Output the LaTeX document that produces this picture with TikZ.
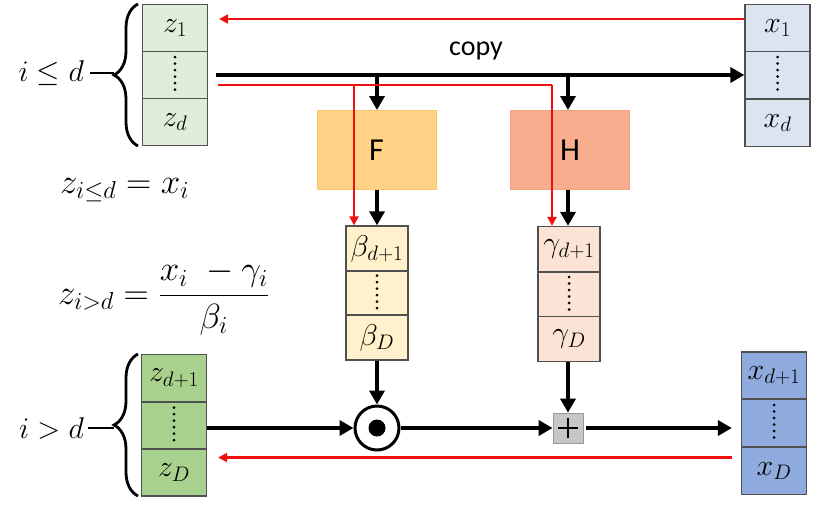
\RequirePackage{fix-cm}
\documentclass[tikz,border=0pt]{standalone}
\usepackage{amsmath}
\usepackage{fontspec}
\newfontfamily\calibri{Carlito}
\usetikzlibrary{arrows.meta,decorations.pathreplacing}
\definecolor{gA}{HTML}{E0EDD8}
\definecolor{gB}{HTML}{A9D18E}
\definecolor{bA}{HTML}{DCE4F2}
\definecolor{bB}{HTML}{8FAADC}
\definecolor{yA}{HTML}{FFF1CC}
\definecolor{pA}{HTML}{FBE3D5}
\definecolor{fF}{HTML}{FFD285}
\definecolor{fFb}{HTML}{F6C66E}
\definecolor{fH}{HTML}{F8AE8E}
\definecolor{fHb}{HTML}{F3A282}
\definecolor{rd}{HTML}{F01010}
\definecolor{bd}{HTML}{505050}
\tikzset{
  cell/.style={draw=bd, line width=1.3pt, minimum width=65pt, minimum height=47pt, inner sep=0pt, font=\fontsize{30}{34}\selectfont},
  bcell/.style={cell, minimum width=62pt, minimum height=45pt},
  fbox/.style={minimum width=119pt, minimum height=79pt, inner sep=0pt, line width=1pt, font=\calibri\fontsize{32}{36}\selectfont},
  blk/.style={line width=4pt, -{Triangle[length=14pt,width=15pt]}},
  blkline/.style={line width=4pt},
  red/.style={draw=rd, line width=2.2pt, -{Triangle[length=9pt,width=9pt]}},
  redline/.style={draw=rd, line width=2.2pt},
  vdots/.style={line width=3pt, line cap=round, dash pattern=on 0pt off 6.5pt},
  brc/.style={line width=2.8pt, decorate, decoration={brace, amplitude=24pt}},
  lbl/.style={font=\fontsize{30}{34}\selectfont, inner sep=0pt},
  eqn/.style={font=\fontsize{35}{40}\selectfont, inner sep=0pt},
}
\begin{document}
\begin{tikzpicture}[x=1pt,y=-1pt]
\useasboundingbox (0,0) rectangle (840,509);
% top-left z stack
\node[cell, fill=gA] (zt1) at (175,28) {$z_1$};
\node[cell, fill=gA] (zt2) at (175,75) {};
\node[cell, fill=gA] (zt3) at (175,122) {$z_d$};
% top-right x stack
\node[cell, fill=bA] (xt1) at (777.5,28) {$x_1$};
\node[cell, fill=bA] (xt2) at (777.5,75) {};
\node[cell, fill=bA] (xt3) at (777.5,123) {$x_d$};
% bottom-left z stack
\node[cell, fill=gB] (zb1) at (174,378) {$z_{d+1}$};
\node[cell, fill=gB] (zb2) at (174,425.5) {};
\node[cell, fill=gB] (zb3) at (174,472.5) {$z_D$};
% bottom-right x stack
\node[cell, fill=bB] (xb1) at (774,375.5) {$x_{d+1}$};
\node[cell, fill=bB] (xb2) at (774,423) {};
\node[cell, fill=bB] (xb3) at (774,471) {$x_D$};
% beta stack
\node[bcell, fill=yA] (be1) at (377,248.5) {$\beta_{d+1}$};
\node[bcell, fill=yA] (be2) at (377,293.5) {};
\node[bcell, fill=yA] (be3) at (377,337.5) {$\beta_D$};
% gamma stack
\node[bcell, fill=pA] (ga1) at (569,249) {$\gamma_{d+1}$};
\node[bcell, fill=pA] (ga2) at (569,295) {};
\node[bcell, fill=pA] (ga3) at (569,339) {$\gamma_D$};
% F and H
\node[fbox, fill=fF, draw=fFb] (F) at (376.5,150) {F};
\node[fbox, fill=fH, draw=fHb] (H) at (570,150) {H};
% odot and plus
\node[circle, draw, line width=3pt, minimum size=44pt, inner sep=0pt] (od) at (377,428) {};
\fill (od.center) circle (8.5pt);
\node[draw=gray!80, fill=gray!45, line width=0.8pt, minimum size=30pt, inner sep=0pt] (pl) at (568,428) {};
\draw[line width=2pt] ([yshift=-10pt]pl.center) -- ([yshift=10pt]pl.center) ([xshift=-10pt]pl.center) -- ([xshift=10pt]pl.center);
% vertical dots
\foreach \n in {zt2,xt2,zb2,xb2,be2,ga2}
  \draw[vdots] ([yshift=18pt]\n.center) -- ([yshift=-19pt]\n.center);
% coordinates
\coordinate (bl0) at ([xshift=8pt]zt2.east);
\coordinate (bF) at (377,73);
\coordinate (bH) at (568,73);
\coordinate (r0) at (218,85);
\coordinate (rF) at (354,85);
\coordinate (rH) at (552,85);
\coordinate (rt0) at ([xshift=11pt,yshift=9pt]zt1.east);
\coordinate (rt1) at ([yshift=9pt]xt1.west);
\coordinate (rb0) at ([xshift=11pt,yshift=-32pt]zb2.east);
\coordinate (rb1) at ([xshift=-9pt,yshift=-34.5pt]xb2.west);
% black connectors
\draw[blk] (bl0) -- (xt2.west);
\draw[blk] (bF) -- (F.north -| bF);
\draw[blk] (bH) -- (H.north -| bH);
\draw[blk] (F.south -| bF) -- (be1.north -| bF);
\draw[blk] (H.south -| bH) -- (ga1.north -| bH);
\draw[blk] (be3.south -| od) -- (od.north);
\draw[blk] (ga3.south -| pl) -- (pl.north);
\draw[blk] (zb2.east |- od) -- (od.west);
\draw[blk] (od.east) -- (pl.west);
\draw[blk] ([xshift=3pt]pl.east) -- ([xshift=-9pt]xb2.west |- pl);
% red connectors
\draw[red] (rt1) -- (rt0);
\draw[redline] (r0) -- (rH);
\draw[red] (rF) -- (be1.north -| rF);
\draw[red] (rH) -- (ga1.north -| rH);
\draw[red] (rb1) -- (rb0);
\node[font=\calibri\fontsize{28}{32}\selectfont, inner sep=0pt] (copy) at (476,51) {copy};
% braces and labels
\draw[brc] (138,146) -- (138,4);
\draw[brc] (138,496) -- (138,354);
\node[lbl, anchor=east] (l1) at (84,73) {$i\le d$};
\node[lbl, anchor=east] (l2) at (84,428) {$i> d$};
\draw[line width=2.8pt] (l1.east) ++(6pt,0) -- (114,73);
\draw[line width=2.8pt] (l2.east) ++(4pt,0) -- (114,428);
% equations
\node[eqn, anchor=base west] (eq1) at (60,193) {$z_{i\le d}=x_i$};
\node[eqn, anchor=west] (eq2) at (58,298) {$z_{i>d}=\dfrac{x_i\ -\gamma_i}{\beta_i}$};
\end{tikzpicture}
\end{document}
